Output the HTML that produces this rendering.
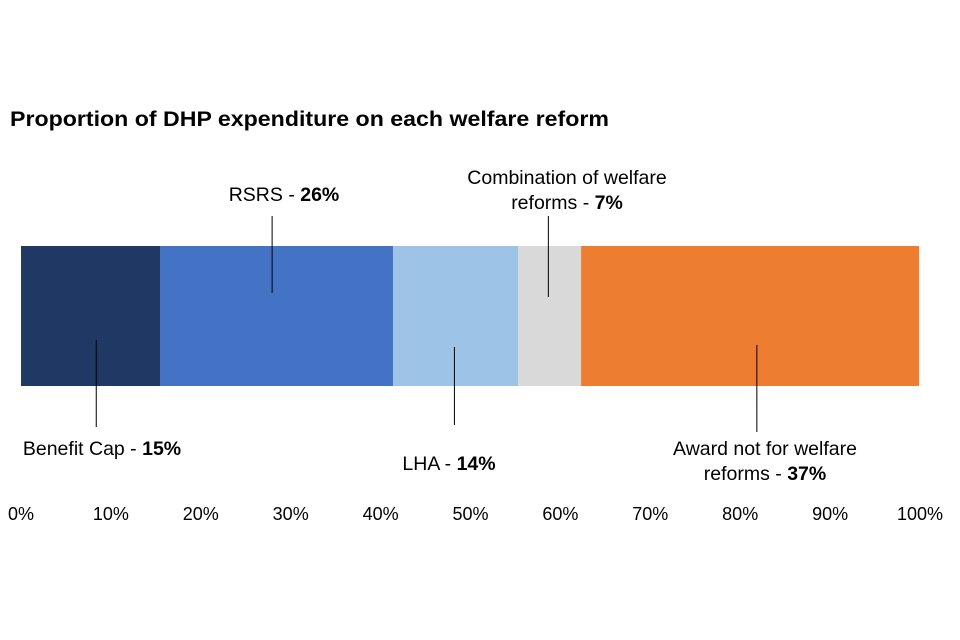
<!DOCTYPE html>
<html><head><meta charset="utf-8"><style>
body{margin:0;background:#fff;font-family:"Liberation Sans",Arial,sans-serif}
svg{display:block}
</style></head><body>
<svg width="960" height="640" id="c">
<text x="10" y="126" font-size="21" font-weight="bold" fill="#000" textLength="599" lengthAdjust="spacingAndGlyphs">Proportion of DHP expenditure on each welfare reform</text>
<g id="bars"></g><g id="ticks"></g><g id="labels"></g>
</svg>
<script>
const categories=["Benefit Cap","RSRS","LHA","Combination of welfare reforms","Award not for welfare reforms"];
const values=[15.5,25.9,13.9,7.0,37.6];
const printed=["15%","26%","14%","7%","37%"];
const tickVals=[0,10,20,30,40,50,60,70,80,90,100];
const colors=["#203864","#4472C4","#9DC3E6","#D9D9D9","#ED7D31"];
const x=v=>21+v*8.99;
const ns="http://www.w3.org/2000/svg";
function mk(t,a,p){const e=document.createElementNS(ns,t);for(const k in a)e.setAttribute(k,a[k]);p.appendChild(e);return e;}
const bars=document.getElementById('bars'),ticks=document.getElementById('ticks'),labels=document.getElementById('labels');
const lay=[
 {lines:["Benefit Cap - "],lx:102,ly:455,lf:0.54,y1:340,y2:427},
 {lines:["RSRS - "],lx:284,ly:201,lf:0.48,y1:216,y2:293},
 {lines:["LHA - "],lx:449,ly:470,lf:0.49,y1:347,y2:425},
 {lines:["Combination of welfare","reforms - "],lx:567,ly:184,lf:0.48,y1:216,y2:297},
 {lines:["Award not for welfare","reforms - "],lx:765,ly:455,lf:0.52,y1:345,y2:432}
];
let cum=0;
values.forEach((v,i)=>{
 const r=mk('rect',{x:x(cum),y:246,width:x(cum+v)-x(cum),height:140,fill:colors[i]},bars);
 
 
 const L=lay[i];
 const lxp=x(cum)+(x(cum+v)-x(cum))*L.lf;
 const ln=mk('line',{x1:lxp,x2:lxp,y1:L.y1,y2:L.y2,stroke:'#000','stroke-width':1},labels);
 
 
 L.lines.forEach((t,j)=>{
  const tx=mk('text',{x:L.lx,y:L.ly+j*25,'text-anchor':'middle','font-size':19.5,fill:'#000'},labels);
  
  
  tx.textContent=t;
  if(j===L.lines.length-1){const b=mk('tspan',{'font-weight':'bold'},tx);b.textContent=printed[i];}
 });
 cum+=v;
});
tickVals.forEach(t=>{
 const e=mk('text',{x:x(t),y:520,'text-anchor':'middle','font-size':18,fill:'#000'},ticks);
 
 
 e.textContent=t+'%';
});
</script>
</body></html>
